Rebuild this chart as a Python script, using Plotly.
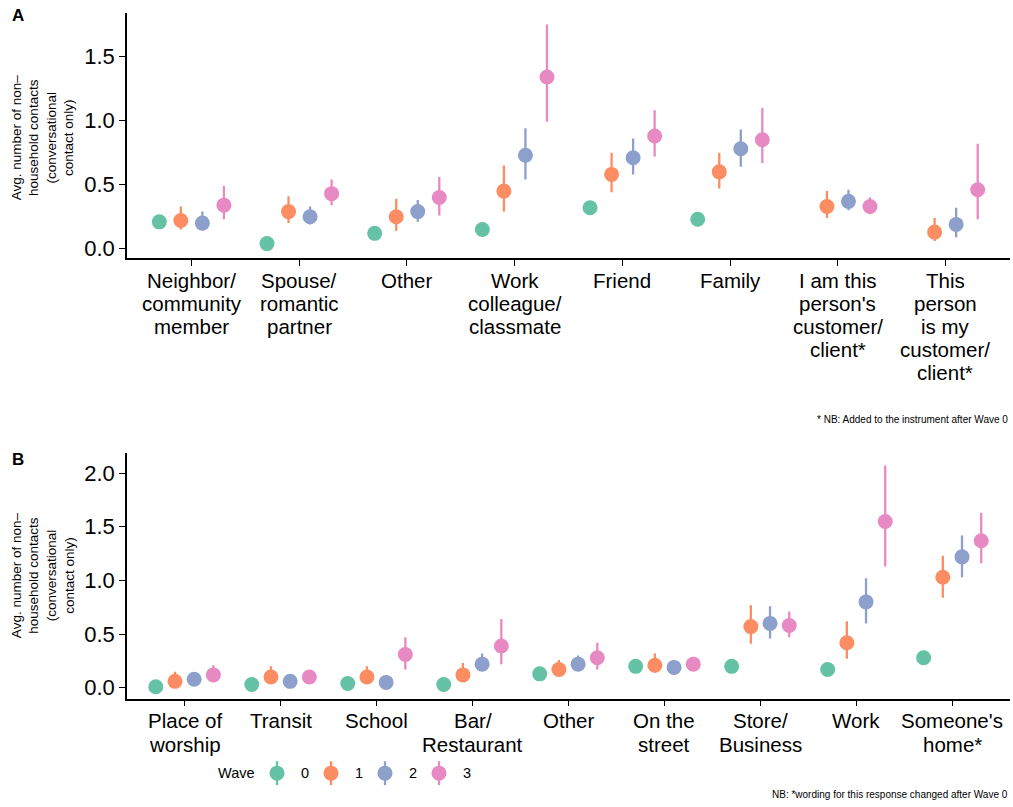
import plotly.graph_objects as go

# ---- Panel A: relationship to contact ----
cats_a = ["Neighbor/\ncommunity\nmember", "Spouse/\nromantic\npartner", "Other",
          "Work\ncolleague/\nclassmate", "Friend", "Family",
          "I am this\nperson's\ncustomer/\nclient*",
          "This\nperson\nis my\ncustomer/\nclient*"]
a_mean = {
    "0": [0.21, 0.04, 0.12, 0.15, 0.32, 0.23, None, None],
    "1": [0.22, 0.29, 0.25, 0.45, 0.58, 0.60, 0.33, 0.13],
    "2": [0.20, 0.25, 0.29, 0.73, 0.71, 0.78, 0.37, 0.19],
    "3": [0.34, 0.43, 0.40, 1.34, 0.88, 0.85, 0.33, 0.46],
}
a_lo = {
    "0": [0.19, 0.03, 0.10, 0.13, 0.29, 0.21, None, None],
    "1": [0.15, 0.20, 0.14, 0.29, 0.44, 0.47, 0.24, 0.06],
    "2": [0.14, 0.19, 0.21, 0.54, 0.58, 0.64, 0.30, 0.09],
    "3": [0.23, 0.34, 0.26, 0.99, 0.72, 0.67, 0.27, 0.23],
}
a_hi = {
    "0": [0.23, 0.05, 0.14, 0.17, 0.36, 0.25, None, None],
    "1": [0.33, 0.41, 0.39, 0.65, 0.75, 0.75, 0.45, 0.24],
    "2": [0.29, 0.33, 0.38, 0.94, 0.86, 0.93, 0.46, 0.32],
    "3": [0.49, 0.54, 0.56, 1.75, 1.08, 1.10, 0.40, 0.82],
}

# ---- Panel B: location of contact ----
cats_b = ["Place of\nworship", "Transit", "School", "Bar/\nRestaurant", "Other",
          "On the\nstreet", "Store/\nBusiness", "Work", "Someone's\nhome*"]
b_mean = {
    "0": [0.01, 0.03, 0.04, 0.03, 0.13, 0.20, 0.20, 0.17, 0.28],
    "1": [0.06, 0.10, 0.10, 0.12, 0.17, 0.21, 0.57, 0.42, 1.03],
    "2": [0.08, 0.06, 0.05, 0.22, 0.22, 0.19, 0.60, 0.80, 1.22],
    "3": [0.12, 0.10, 0.31, 0.39, 0.28, 0.22, 0.58, 1.55, 1.37],
}
b_lo = {
    "0": [0.00, 0.02, 0.03, 0.02, 0.11, 0.18, 0.18, 0.15, 0.26],
    "1": [0.02, 0.05, 0.04, 0.06, 0.11, 0.14, 0.41, 0.27, 0.84],
    "2": [0.04, 0.03, 0.02, 0.16, 0.17, 0.13, 0.46, 0.60, 1.03],
    "3": [0.06, 0.06, 0.17, 0.22, 0.17, 0.17, 0.47, 1.13, 1.16],
}
b_hi = {
    "0": [0.02, 0.04, 0.05, 0.04, 0.15, 0.22, 0.22, 0.19, 0.30],
    "1": [0.15, 0.20, 0.20, 0.23, 0.26, 0.32, 0.77, 0.62, 1.23],
    "2": [0.12, 0.10, 0.09, 0.32, 0.30, 0.25, 0.76, 1.02, 1.42],
    "3": [0.21, 0.15, 0.47, 0.64, 0.42, 0.28, 0.71, 2.07, 1.63],
}

waves = ["0", "1", "2", "3"]
colors = {"0": "#66C2A5", "1": "#FC8D62", "2": "#8DA0CB", "3": "#E78AC3"}
dodge = {"0": -0.3, "1": -0.1, "2": 0.1, "3": 0.3}

FONT = "Liberation Sans, Arial, Helvetica, sans-serif"
W, H = 1013, 807
DOT = 15
STROKE = 2.3

fig = go.Figure()


def add_panel(mean, lo, hi, xa, ya):
    for w in waves:
        xs, ys, up, dn = [], [], [], []
        for i, m in enumerate(mean[w]):
            if m is None:
                continue
            xs.append(i + 1 + dodge[w])
            ys.append(m)
            up.append(hi[w][i] - m)
            dn.append(m - lo[w][i])
        fig.add_trace(go.Scatter(
            x=xs, y=ys, mode="markers", name=w, xaxis=xa, yaxis=ya,
            showlegend=False, legendgroup=w,
            marker=dict(color=colors[w], size=DOT, line=dict(width=0)),
            error_y=dict(type="data", array=up, arrayminus=dn, symmetric=False,
                         color=colors[w], thickness=STROKE, width=0),
        ))


add_panel(a_mean, a_lo, a_hi, "x", "y")
add_panel(b_mean, b_lo, b_hi, "x2", "y2")

# plot-area geometry in pixels
LEFT, RIGHT = 127, 1010
A_TOP, A_BOT = 13, 259
B_TOP, B_BOT = 455, 702

xdom = [LEFT / W, RIGHT / W]
dom_a = [1 - A_BOT / H, 1 - A_TOP / H]
dom_b = [1 - B_BOT / H, 1 - B_TOP / H]

# ---- pointrange key (legend) on a hidden full-page pixel axis ----
KEY_Y = 777
KEY_X0, KEY_STEP = 277, 54
for k, w in enumerate(waves):
    fig.add_trace(go.Scatter(
        x=[KEY_X0 + KEY_STEP * k], y=[KEY_Y], mode="markers", name=w,
        xaxis="x3", yaxis="y3", legendgroup=w, showlegend=False, hoverinfo="skip",
        marker=dict(color=colors[w], size=DOT, line=dict(width=0)),
        error_y=dict(type="constant", value=12, color=colors[w], thickness=STROKE, width=0),
    ))

axis_common = dict(showline=True, linecolor="black", linewidth=1.6, ticks="outside",
                   ticklen=6, tickwidth=1.3, tickcolor="black", showgrid=False,
                   zeroline=False, mirror=False)
hidden = dict(visible=False, showgrid=False, zeroline=False, fixedrange=True)

fig.update_layout(
    width=W, height=H,
    margin=dict(l=0, r=0, t=0, b=0),
    paper_bgcolor="white", plot_bgcolor="rgba(0,0,0,0)",
    font=dict(family=FONT, color="black"),
    showlegend=False,
    xaxis=dict(domain=xdom, anchor="y", range=[0.4, len(cats_a) + 0.6],
               tickvals=list(range(1, len(cats_a) + 1)), showticklabels=False, **axis_common),
    yaxis=dict(domain=dom_a, anchor="x", range=[-0.07, 1.84],
               tickvals=[0, 0.5, 1.0, 1.5], ticktext=["0.0", "0.5", "1.0", "1.5"],
               tickfont=dict(size=22, color="black"), **axis_common),
    xaxis2=dict(domain=xdom, anchor="y2", range=[0.4, len(cats_b) + 0.6],
                tickvals=list(range(1, len(cats_b) + 1)), showticklabels=False, **axis_common),
    yaxis2=dict(domain=dom_b, anchor="x2", range=[-0.10, 2.19],
                tickvals=[0, 0.5, 1.0, 1.5, 2.0], ticktext=["0.0", "0.5", "1.0", "1.5", "2.0"],
                tickfont=dict(size=22, color="black"), **axis_common),
    xaxis3=dict(domain=[0, 1], anchor="y3", range=[0, W], **hidden),
    yaxis3=dict(domain=[0, 1], anchor="x3", range=[H, 0], **hidden),
)

annotations = []

# category labels, one line at a time for tight line spacing
LINE = 23.3


def add_cat_labels(cats, xref, axis_bottom):
    for i, lab in enumerate(cats):
        for k, part in enumerate(lab.split("\n")):
            annotations.append(dict(text=part, x=i + 1, xref=xref,
                                    y=1 - (axis_bottom + 22.5 + LINE * k) / H, yref="paper",
                                    xanchor="center", yanchor="middle",
                                    font=dict(size=20.5)))


add_cat_labels(cats_a, "x", A_BOT)
add_cat_labels(cats_b, "x2", B_BOT)

# key title and labels
annotations.append(dict(text="Wave", x=216 / W, y=1 - KEY_Y / H, xanchor="left",
                        yanchor="middle", font=dict(size=14.5)))
for k, w in enumerate(waves):
    annotations.append(dict(text=w, x=(KEY_X0 + KEY_STEP * k + 22) / W, y=1 - KEY_Y / H,
                            xanchor="left", yanchor="middle", font=dict(size=14.5)))

ytitle = "Avg. number of non–<br>household contacts<br>(conversational<br>contact only)"
annotations += [
    dict(text="<b>A</b>", x=10 / W, y=1 - 4 / H, xanchor="left", yanchor="top",
         font=dict(size=17)),
    dict(text="<b>B</b>", x=10 / W, y=1 - 450 / H, xanchor="left", yanchor="top",
         font=dict(size=17)),
    dict(text=ytitle, textangle=-90, x=43 / W, y=1 - 138 / H, xanchor="center", yanchor="middle",
         font=dict(size=13.5)),
    dict(text=ytitle, textangle=-90, x=43 / W, y=1 - 578 / H, xanchor="center", yanchor="middle",
         font=dict(size=13.5)),
    dict(text="* NB: Added to the instrument after Wave 0", x=1010 / W, y=1 - 422 / H,
         xanchor="right", yanchor="middle", font=dict(size=10)),
    dict(text="NB: *wording for this response changed after Wave 0", x=1010 / W, y=1 - 798 / H,
         xanchor="right", yanchor="middle", font=dict(size=10)),
]
for a in annotations:
    a.setdefault("xref", "paper")
    a.setdefault("yref", "paper")
    a["showarrow"] = False
fig.update_layout(annotations=annotations)

fig.write_html("out.html")
